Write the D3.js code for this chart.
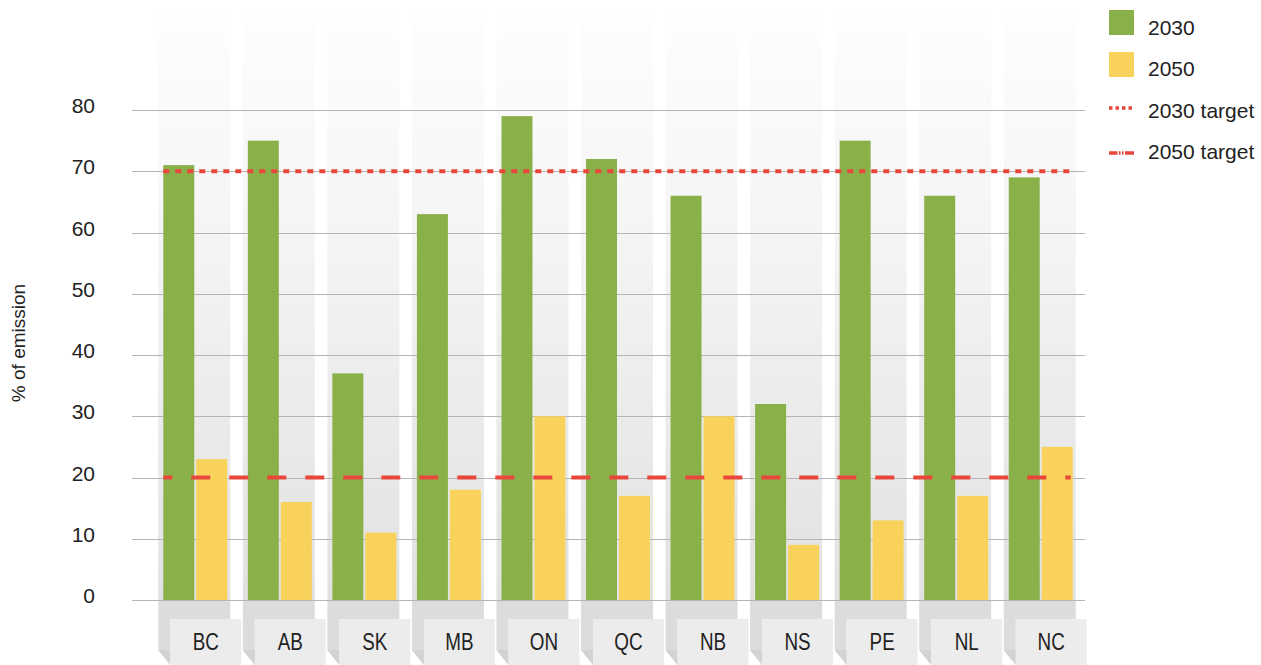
<!DOCTYPE html>
<html><head><meta charset="utf-8">
<script src="https://cdnjs.cloudflare.com/ajax/libs/d3/7.8.5/d3.min.js"></script>
<style>
html,body{margin:0;padding:0;background:#fff;}
svg{display:block;}
text{font-family:"Liberation Sans","Arial",sans-serif;fill:#222;}
</style></head>
<body>
<svg id="chart" width="1261" height="665"></svg>
<script>
const categories = ["BC","AB","SK","MB","ON","QC","NB","NS","PE","NL","NC"];
const values2030 = [71,75,37,63,79,72,66,32,75,66,69];
const values2050 = [23,16,11,18,30,17,30,9,13,17,25];
const target2030 = 70;
const target2050 = 20;
const yTicks = [0,10,20,30,40,50,60,70,80];
const seriesNames = ["2030","2050"];
const legendLabels = ["2030","2050","2030 target","2050 target"];

const green = "#8ab04a", yellow = "#f8d25a", red = "#e9473b";
const svg = d3.select("#chart");

const y = d3.scaleLinear().domain([0,80]).range([600,110]);
const x = d3.scaleBand().domain(categories).range([152,1082]).paddingInner(0.149).paddingOuter(0.0745);
const bw = x.bandwidth();
const xs = d3.scaleBand().domain(seriesNames).range([5,bw-3]).paddingInner(0.0606);

// gradient
const defs = svg.append("defs");
const grad = defs.append("linearGradient").attr("id","bandGrad").attr("x1",0).attr("y1",0).attr("x2",0).attr("y2",1);
grad.append("stop").attr("offset","0%").attr("stop-color","#fefefe");
grad.append("stop").attr("offset","40%").attr("stop-color","#f4f4f4");
grad.append("stop").attr("offset","100%").attr("stop-color","#e1e1e1");

// background bands
svg.append("g").selectAll("rect").data(categories).join("rect")
  .attr("x",d=>x(d)).attr("y",10).attr("width",bw).attr("height",y(0)-10)
  .attr("fill","url(#bandGrad)");

// base blocks
const base = svg.append("g");
categories.forEach(c=>{
  const x0 = x(c);
  base.append("polygon")
    .attr("points",[[x0,600],[x0+bw,600],[x0+bw,619],[x0+12,619],[x0+12,665],[x0,650]].map(p=>p.join(",")).join(" "))
    .attr("fill","#dcdcdc");
  base.append("polygon")
    .attr("points",[[x0,650],[x0+12,650],[x0+12,665]].map(p=>p.join(",")).join(" "))
    .attr("fill","#d3d3d3");
  base.append("rect").attr("x",x0+12).attr("y",619).attr("width",bw-1).attr("height",46).attr("fill","#ececec");
  const cx = x0+12+(bw-1)/2;
  base.append("text").attr("transform",`translate(${cx},650) scale(0.82,1)`).attr("text-anchor","middle")
    .style("font-size","23px").text(c);
});

// gridlines
svg.append("g").selectAll("line").data(yTicks).join("line")
  .attr("x1",132).attr("x2",1085).attr("y1",d=>Math.round(y(d))+0.5).attr("y2",d=>Math.round(y(d))+0.5)
  .attr("stroke","#b5b5b5").attr("stroke-width",1.2);

// y tick labels
svg.append("g").selectAll("text").data(yTicks).join("text")
  .attr("x",95).attr("y",d=>y(d)+3).attr("text-anchor","end")
  .style("font-size","21px").text(d=>d);

// y axis title
svg.append("text").attr("transform","translate(25,343) rotate(-90)").attr("text-anchor","middle")
  .style("font-size","19px").text("% of emission");

// bars
const bars = svg.append("g");
bars.selectAll("rect.g30").data(categories).join("rect").attr("class","g30")
  .attr("x",d=>x(d)+xs("2030")).attr("width",xs.bandwidth())
  .attr("y",(d,i)=>y(values2030[i])).attr("height",(d,i)=>y(0)-y(values2030[i]))
  .attr("fill",green);
bars.selectAll("rect.g50").data(categories).join("rect").attr("class","g50")
  .attr("x",d=>x(d)+xs("2050")).attr("width",xs.bandwidth())
  .attr("y",(d,i)=>y(values2050[i])).attr("height",(d,i)=>y(0)-y(values2050[i]))
  .attr("fill",yellow);

// target lines
const lx1 = x(categories[0])+5, lx2 = x(categories[categories.length-1])+bw-5;
svg.append("line").attr("x1",lx1).attr("x2",lx2).attr("y1",y(target2030)).attr("y2",y(target2030))
  .attr("stroke",red).attr("stroke-width",4).attr("stroke-dasharray","6,6");
svg.append("line").attr("x1",lx1).attr("x2",lx2).attr("y1",y(target2050)).attr("y2",y(target2050))
  .attr("stroke",red).attr("stroke-width",4).attr("stroke-dasharray","19,19").attr("stroke-dashoffset",10);

// legend
const lg = svg.append("g");
const lgY = [27,68,110,151];
lg.append("rect").attr("x",1109).attr("y",lgY[0]-17).attr("width",25).attr("height",25).attr("fill",green);
lg.append("rect").attr("x",1109).attr("y",lgY[1]-16).attr("width",25).attr("height",25).attr("fill",yellow);
lg.append("line").attr("x1",1109).attr("x2",1134).attr("y1",108).attr("y2",108)
  .attr("stroke",red).attr("stroke-width",3.5).attr("stroke-dasharray","3.5,3");
lg.append("line").attr("x1",1109).attr("x2",1134).attr("y1",153).attr("y2",153)
  .attr("stroke",red).attr("stroke-width",3.5).attr("stroke-dasharray","8.5,1.5,1.5,1.5,1.5,1.5,10");
lg.selectAll("text").data(legendLabels).join("text")
  .attr("x",1148).attr("y",(d,i)=>lgY[i]+8).style("font-size","21px").text(d=>d);
</script>
</body></html>
